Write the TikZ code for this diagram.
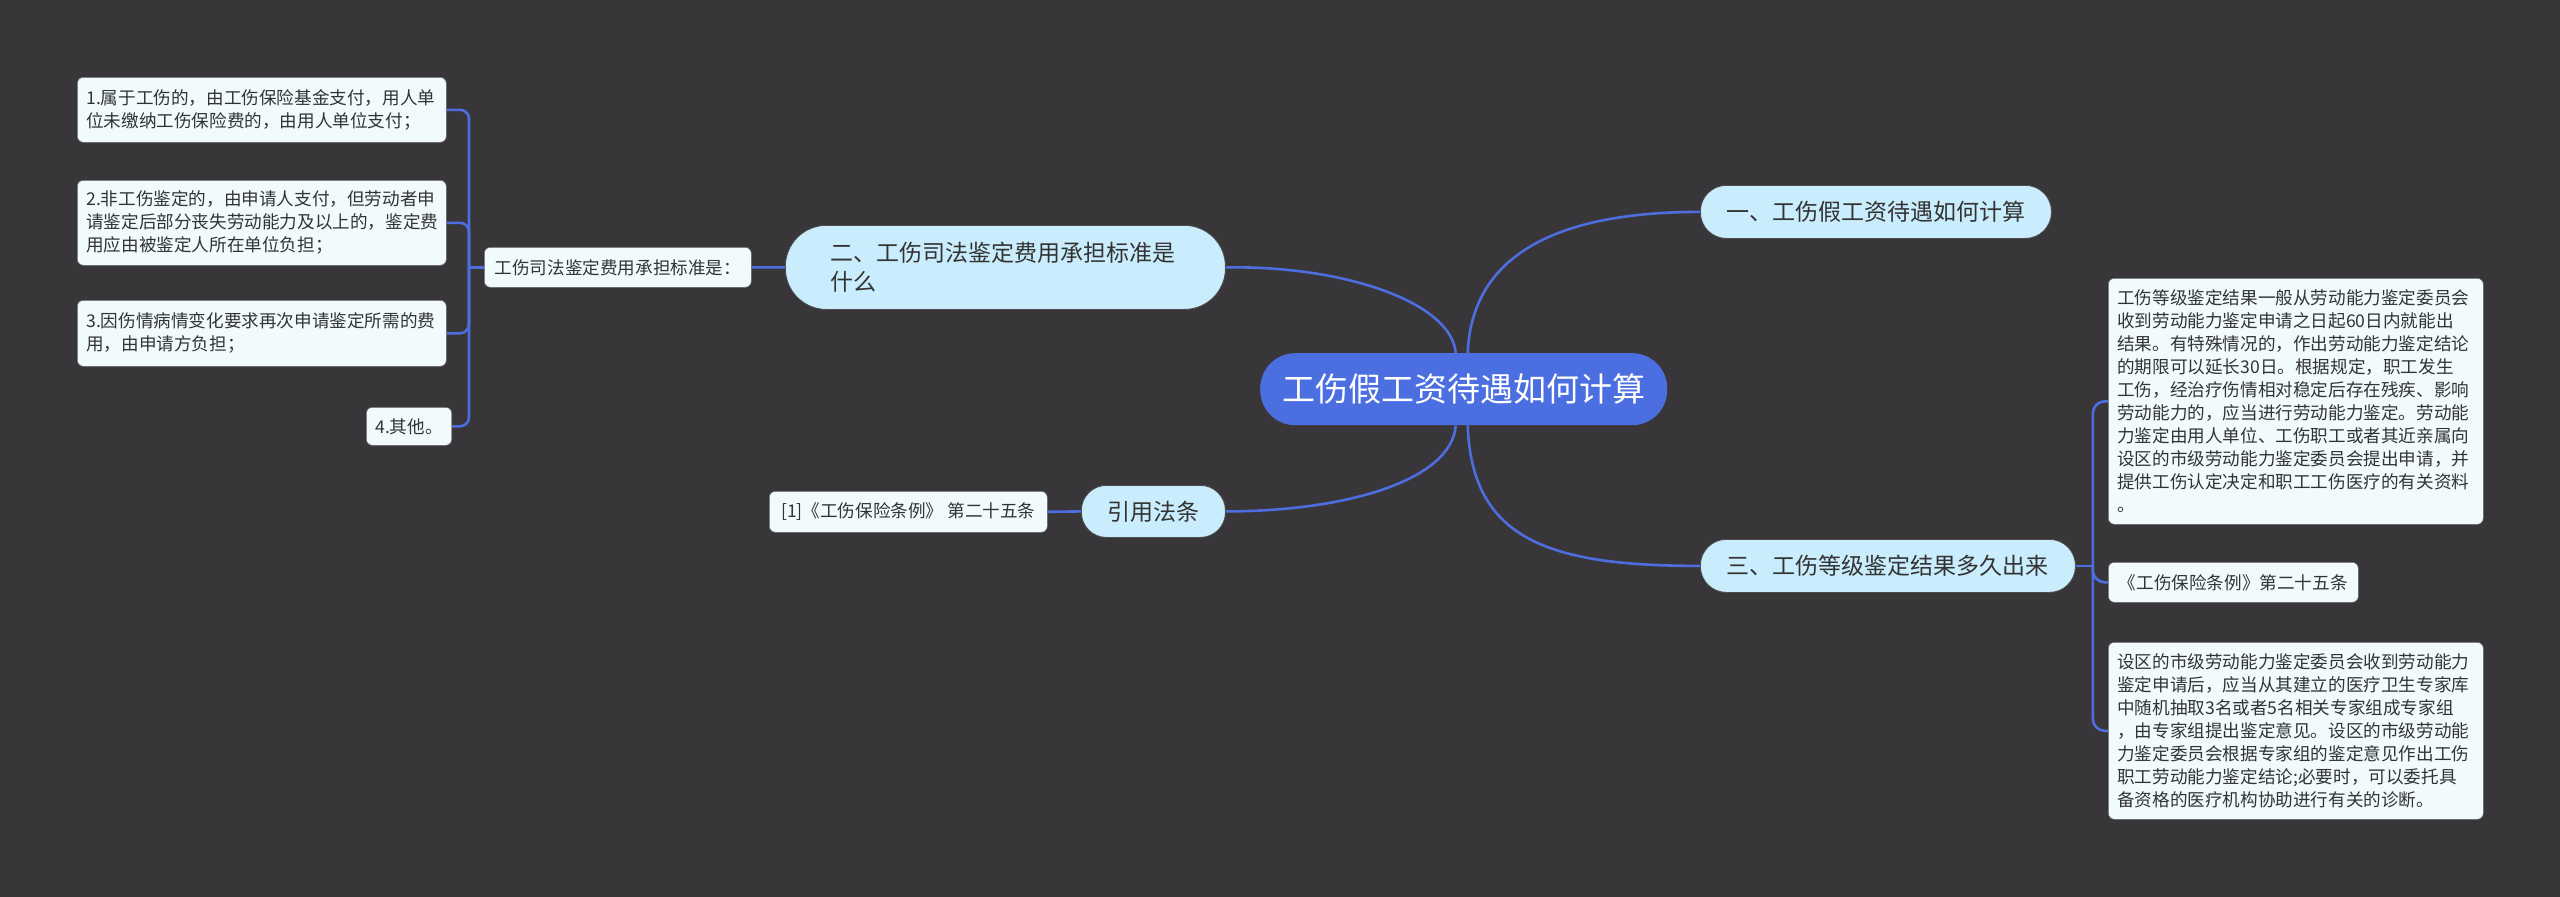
\documentclass[tikz,border=0pt]{standalone}
\usepackage{fontspec}
\setmainfont{Noto Sans CJK SC}
\definecolor{bgc}{HTML}{383638}
\definecolor{rootc}{HTML}{4B6FE1}
\definecolor{subc}{HTML}{C9EDFC}
\definecolor{leafc}{HTML}{F1FBFE}
\definecolor{linec}{HTML}{4E6EE0}
\definecolor{txtc}{HTML}{333333}
\pgfdeclarelayer{bg}
\pgfdeclarelayer{edges}
\pgfsetlayers{bg,edges,main}
\tikzset{
  rootnode/.style={fill=rootc, text=white, rounded corners=35pt, inner sep=0pt,
    font=\fontsize{33}{40}\selectfont, anchor=north west},
  subnode/.style={fill=subc, draw=black!70, line width=0.8pt, text=txtc, inner sep=0pt,
    font=\fontsize{23}{29}\selectfont, anchor=north west},
  leafnode/.style={fill=leafc, draw=black!60, line width=0.6pt, text=txtc, rounded corners=6pt,
    inner xsep=9pt, inner ysep=0pt, font=\fontsize{17.6}{23}\selectfont, anchor=north west},
  conn/.style={draw=linec, line width=2.6pt},
}
\begin{document}
\begin{tikzpicture}[x=1pt,y=-1pt]
\begin{pgfonlayer}{bg}
\fill[bgc] (0,0) rectangle (2560,897);
\end{pgfonlayer}
\useasboundingbox (0,0) rectangle (2560,897);

% root
\node[rootnode, minimum width=407pt, minimum height=72pt] (root) at (1260,353) {工伤假工资待遇如何计算};

% level 1
\node[subnode, rounded corners=26pt, minimum width=351pt, minimum height=53pt] (s1) at (1700,185) {一、工伤假工资待遇如何计算};
\node[subnode, rounded corners=26pt, minimum width=375pt, minimum height=53pt] (s3) at (1700,539) {三、工伤等级鉴定结果多久出来};
\node[subnode, rounded corners=41pt, minimum width=440pt, minimum height=84pt, text width=350pt, align=left] (s2) at (785,225) {二、工伤司法鉴定费用承担标准是\\什么};
\node[subnode, rounded corners=25pt, minimum width=144pt, minimum height=52pt] (s4) at (1081,485) {引用法条};

% left leaves
\node[leafnode, minimum width=267pt, minimum height=40pt] (lj) at (484,247) {工伤司法鉴定费用承担标准是：};
\node[leafnode, minimum width=369pt, minimum height=65pt, text width=351pt, align=left] (i1) at (77,77) {1.属于工伤的，由工伤保险基金支付，用人单\\位未缴纳工伤保险费的，由用人单位支付；};
\node[leafnode, minimum width=369pt, minimum height=85pt, text width=351pt, align=left] (i2) at (77,180) {2.非工伤鉴定的，由申请人支付，但劳动者申\\请鉴定后部分丧失劳动能力及以上的，鉴定费\\用应由被鉴定人所在单位负担；};
\node[leafnode, minimum width=369pt, minimum height=66pt, text width=351pt, align=left] (i3) at (77,300) {3.因伤情病情变化要求再次申请鉴定所需的费\\用，由申请方负担；};
\node[leafnode, minimum width=80pt, minimum height=38pt] (i4) at (366,407) {4.其他。};
\node[leafnode, minimum width=278pt, minimum height=41pt] (law) at (769,491) {[1]《工伤保险条例》 第二十五条};

% right leaves
\node[leafnode, minimum width=375pt, minimum height=246pt, text width=357pt, align=left] (r1) at (2108,278) {工伤等级鉴定结果一般从劳动能力鉴定委员会\\收到劳动能力鉴定申请之日起60日内就能出\\结果。有特殊情况的，作出劳动能力鉴定结论\\的期限可以延长30日。根据规定，职工发生\\工伤，经治疗伤情相对稳定后存在残疾、影响\\劳动能力的，应当进行劳动能力鉴定。劳动能\\力鉴定由用人单位、工伤职工或者其近亲属向\\设区的市级劳动能力鉴定委员会提出申请，并\\提供工伤认定决定和职工工伤医疗的有关资料\\。};
\node[leafnode, minimum width=250pt, minimum height=40pt] (r2) at (2108,562) {《工伤保险条例》第二十五条};
\node[leafnode, minimum width=375pt, minimum height=177pt, text width=357pt, align=left] (r3) at (2108,642) {设区的市级劳动能力鉴定委员会收到劳动能力\\鉴定申请后，应当从其建立的医疗卫生专家库\\中随机抽取3名或者5名相关专家组成专家组\\，由专家组提出鉴定意见。设区的市级劳动能\\力鉴定委员会根据专家组的鉴定意见作出工伤\\职工劳动能力鉴定结论;必要时，可以委托具\\备资格的医疗机构协助进行有关的诊断。};

% connectors
\coordinate (rootTR) at ([xshift=4pt]root.north);
\coordinate (rootTL) at ([xshift=-8pt]root.north);
\coordinate (rootBR) at ([xshift=4pt]root.south);
\coordinate (rootBL) at ([xshift=-8pt]root.south);
\coordinate (lbus) at ([xshift=-15pt]lj.west);
\coordinate (rbus) at ([xshift=17pt]s3.east);
\begin{pgfonlayer}{edges}
\draw[conn] (rootTR) .. controls ([xshift=4pt,yshift=100pt]rootTR) and ([xshift=-140pt]s1.west) .. (s1.west);
\draw[conn] (rootTL) .. controls ([xshift=-4pt,yshift=50pt]rootTL) and ([xshift=120pt,yshift=2pt]s2.east) .. (s2.east);
\draw[conn] (rootBR) .. controls ([xshift=4pt,yshift=-115pt]rootBR) and ([xshift=-150pt]s3.west) .. (s3.west);
\draw[conn] (rootBL) .. controls ([xshift=-4pt,yshift=-55pt]rootBL) and ([xshift=120pt]s4.east) .. (s4.east);
\draw[conn] (s2.west) -- (lj.east);
\draw[conn] (s4.west) -- (law.east);
\draw[conn] (lj.west) -- (lbus);
\draw[conn, rounded corners=9pt] (lbus) |- (i1.east);
\draw[conn, rounded corners=9pt] (lbus) |- (i2.east);
\draw[conn, rounded corners=9pt] (lbus) |- (i3.east);
\draw[conn, rounded corners=9pt] (lbus) |- (i4.east);
\draw[conn] (s3.east) -- (rbus);
\draw[conn, rounded corners=12pt] (rbus) |- (r1.west);
\draw[conn, rounded corners=12pt] (rbus) |- (r2.west);
\draw[conn, rounded corners=12pt] (rbus) |- (r3.west);
\end{pgfonlayer}
\end{tikzpicture}
\end{document}
